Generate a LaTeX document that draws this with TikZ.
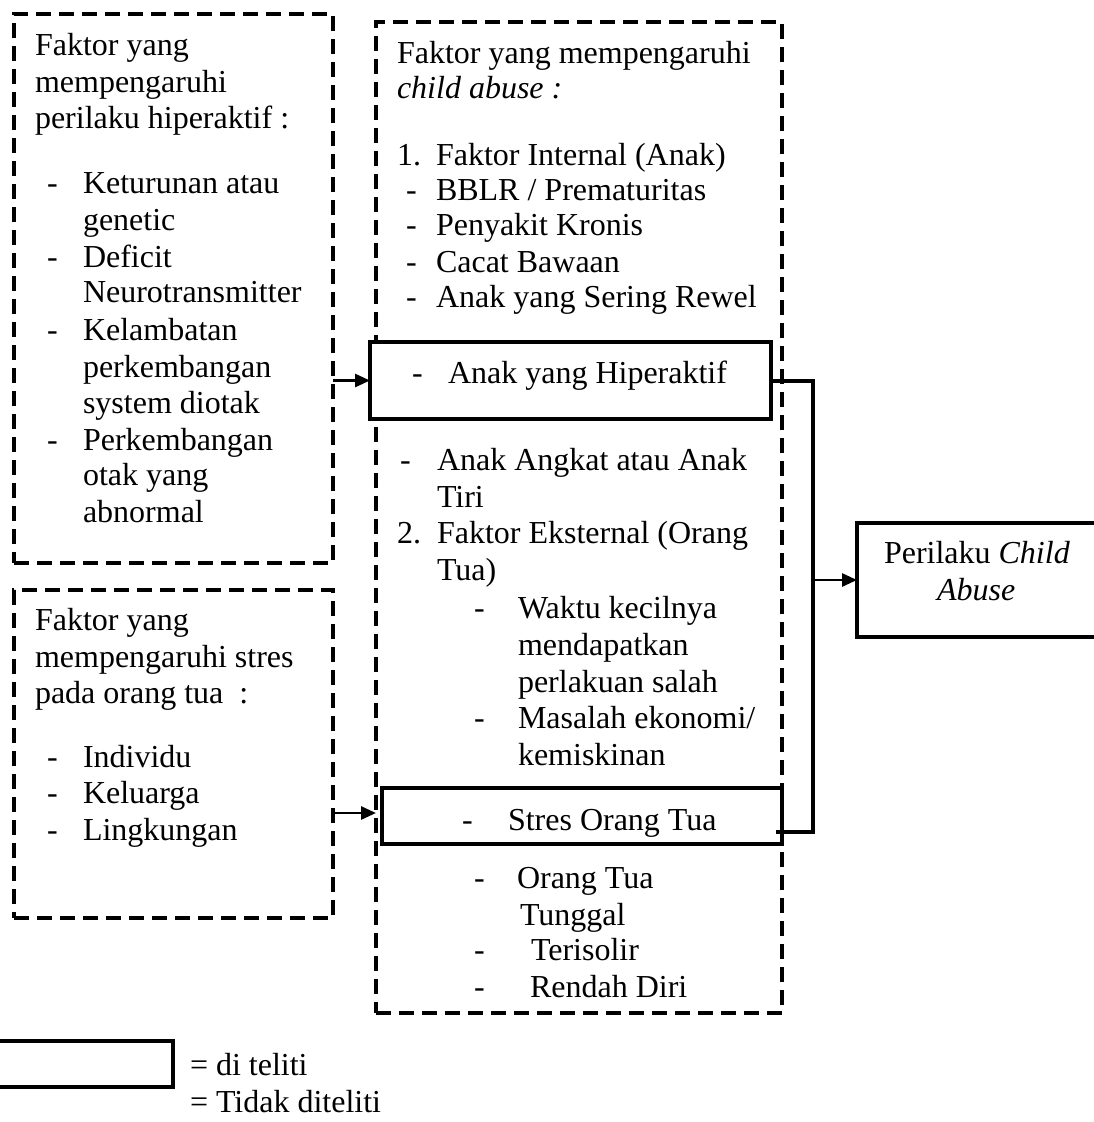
\documentclass[tikz,border=0pt]{standalone}
\usepackage{fontspec}
\setmainfont{Liberation Serif}
\usetikzlibrary{arrows.meta}
\tikzset{
  txt/.style={anchor=base west, inner sep=0pt, outer sep=0pt, font=\fontsize{32}{36}\selectfont},
  dbox/.style={draw, line width=3.6pt, dash pattern=on 15pt off 8pt, inner sep=0pt, outer sep=0pt, anchor=north west},
  sbox/.style={draw, line width=3.6pt, inner sep=0pt, outer sep=0pt, anchor=north west},
  conn/.style={line width=3.2pt},
  arr/.style={line width=2.8pt, -{Triangle[length=15pt,width=13pt]}}
}
\newcommand{\tl}[4]{\node[txt] (#1) at (#2,#3) {#4};}
\begin{document}
\begin{tikzpicture}[x=1pt,y=-1pt]
\useasboundingbox (0,0) rectangle (1094,1122);
% boxes
\node[dbox, minimum width=319pt, minimum height=549pt] (boxA) at (14,14) {};
\node[dbox, minimum width=319pt, minimum height=328pt] (boxB) at (14,590) {};
\node[dbox, minimum width=406pt, minimum height=991pt] (mid) at (376,22) {};
\node[sbox, fill=white, minimum width=401pt, minimum height=77pt] (hip) at (370,342) {};
\node[sbox, fill=white, minimum width=400pt, minimum height=56pt] (stres) at (382,788) {};
\node[sbox, minimum width=240pt, minimum height=114pt] (peri) at (857,523) {};
\node[sbox, minimum width=190pt, minimum height=46pt] (leg) at (-17,1041) {};
% left box A
\tl{a1}{35}{55}{Faktor yang}
\tl{a2}{35}{92}{mempengaruhi}
\tl{a3}{35}{128}{perilaku hiperaktif :}
\tl{ad1}{47}{193}{-}
\tl{ad2}{47}{267}{-}
\tl{ad3}{47}{340}{-}
\tl{ad4}{47}{450}{-}
\tl{a4}{83}{193}{Keturunan atau}
\tl{a5}{83}{230}{genetic}
\tl{a6}{83}{267}{Deficit}
\tl{a7}{83}{302}{Neurotransmitter}
\tl{a8}{83}{340}{Kelambatan}
\tl{a9}{83}{377}{perkembangan}
\tl{a10}{83}{413}{system diotak}
\tl{a11}{83}{450}{Perkembangan}
\tl{a12}{83}{485}{otak yang}
\tl{a13}{83}{522}{abnormal}
% left box B
\tl{b1}{35}{630}{Faktor yang}
\tl{b2}{35}{667}{mempengaruhi stres}
\tl{b3}{35}{703}{pada orang tua\ \ :}
\tl{bd1}{47}{767}{-}
\tl{bd2}{47}{803}{-}
\tl{bd3}{47}{840}{-}
\tl{b4}{83}{767}{Individu}
\tl{b5}{83}{803}{Keluarga}
\tl{b6}{83}{840}{Lingkungan}
% middle box
\tl{m1}{397}{63}{Faktor yang mempengaruhi}
\tl{m2}{397}{98}{\textit{child abuse :}}
\tl{mn1}{397}{165}{1.}
\tl{m3}{436}{165}{Faktor Internal (Anak)}
\tl{md1}{406}{200}{-}
\tl{md2}{406}{235}{-}
\tl{md3}{406}{272}{-}
\tl{md4}{406}{307}{-}
\tl{m4}{436}{200}{BBLR / Prematuritas}
\tl{m5}{436}{235}{Penyakit Kronis}
\tl{m6}{436}{272}{Cacat Bawaan}
\tl{m7}{436}{307}{Anak yang Sering Rewel}
\tl{hd}{412}{383}{-}
\tl{ht}{448}{383}{Anak yang Hiperaktif}
\tl{md5}{400}{470}{-}
\tl{m8}{437}{470}{Anak Angkat atau Anak}
\tl{m9}{437}{507}{Tiri}
\tl{mn2}{397}{543}{2.}
\tl{m10}{437}{543}{Faktor Eksternal (Orang}
\tl{m11}{437}{580}{Tua)}
\tl{me1}{474}{618}{-}
\tl{me2}{474}{728}{-}
\tl{m12}{518}{618}{Waktu kecilnya}
\tl{m13}{518}{655}{mendapatkan}
\tl{m14}{518}{692}{perlakuan salah}
\tl{m15}{518}{728}{Masalah ekonomi/}
\tl{m16}{518}{765}{kemiskinan}
\tl{sd}{462}{830}{-}
\tl{st}{508}{830}{Stres Orang Tua}
\tl{me3}{474}{888}{-}
\tl{me4}{474}{960}{-}
\tl{me5}{474}{997}{-}
\tl{m17}{517}{888}{Orang Tua}
\tl{m18}{520}{925}{Tunggal}
\tl{m19}{531}{960}{Terisolir}
\tl{m20}{530}{997}{Rendah Diri}
% result box
\tl{p1}{884}{563}{Perilaku \textit{Child}}
\tl{p2}{937}{600}{\textit{Abuse}}
% legend
\tl{l1}{190}{1075}{= di teliti}
\tl{l2}{190}{1112}{= Tidak diteliti}
% connectors
\coordinate (jtop) at (813,381);
\coordinate (jbot) at (813,832);
\coordinate (send) at (776,832);
\draw[arr] (hip.west -| boxA.east) -- (hip.west);
\draw[arr] (boxB.east |- 0,813) -- (mid.west |- 0,813);
\draw[conn] (hip.east |- jtop) -- (jtop) -- (jbot) -- (send);
\draw[arr] (jtop |- peri.west) -- (peri.west);
\end{tikzpicture}
\end{document}
